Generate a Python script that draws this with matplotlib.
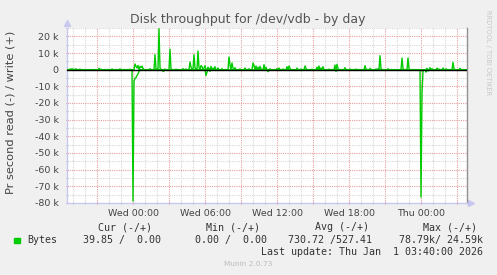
#!/usr/bin/env python
"""Munin style disk throughput graph for /dev/vdb, day view."""

import numpy as np
import matplotlib.pyplot as plt
from matplotlib.ticker import FixedLocator, FixedFormatter, MultipleLocator

# 5 minute samples, sample 0 = Tue 18:30, 400 samples in the window
n_samples = 400

# write (+) bytes/s, sparse: (sample index, value), everything else is 0
write_points = [
    (3, 400), (5, 600), (7, 300), (9, 500), (13, 300), (32, 800), (34, 300),
    (45, 400), (53, 500), (63, 300),
    (68, 3400), (69, 2000), (70, 1000), (71, 2500), (73, 2000), (74, 1200),
    (75, 2200), (76, 800), (83, 600),
    (88, 9000), (89, 500), (90, 300), (92, 24590), (93, 1000), (94, 200),
    (98, 300), (103, 12300), (104, 500), (109, 300),
    (116, 600), (119, 400), (123, 4600), (124, 1500), (125, 300), (127, 9000),
    (128, 1000), (129, 500), (131, 11200), (132, 1500), (134, 2500),
    (135, 1800), (137, 1000), (138, 2300),
    (141, 1500), (142, 600), (144, 2000), (146, 1000), (148, 1800), (151, 1000),
    (155, 500), (162, 7600), (163, 3000), (165, 4000), (166, 1000), (168, 1200),
    (173, 400),
    (178, 1000), (182, 500), (186, 4000), (187, 2500), (189, 2200), (191, 1500),
    (193, 2000), (194, 500), (197, 3000), (199, 1500), (203, 500), (210, 600),
    (212, 1000),
    (216, 400), (220, 1800), (222, 2200), (223, 800), (230, 1000), (234, 400),
    (238, 2200), (239, 800), (245, 300), (250, 1500), (252, 2200), (254, 1000),
    (256, 1800),
    (262, 300), (268, 2800), (270, 3200), (271, 800), (278, 1200), (283, 400),
    (289, 300), (298, 2400), (299, 600), (303, 800), (309, 400), (311, 500),
    (313, 8400), (314, 800), (321, 500),
    (335, 7000), (336, 800), (341, 7000), (342, 500),
    (360, 800), (363, 1200), (365, 600), (370, 900), (372, 400), (376, 1000),
    (379, 500), (386, 4400), (387, 600), (393, 800),
]

# read (-) bytes/s, sparse, drawn below zero
read_points = [
    (66, 78790), (67, 7000), (68, 5000), (69, 4800), (70, 3500), (71, 2500),
    (72, 1000), (96, 1000), (97, 800), (139, 3500), (140, 1500), (143, 1000),
    (201, 1200), (202, 600), (269, 1000),
    (354, 76500), (355, 14000), (356, 1000), (359, 1500), (361, 800),
]

# x axis: hours since Tue 18:30
x_labels = ['Wed 00:00', 'Wed 06:00', 'Wed 12:00', 'Wed 18:00', 'Thu 00:00']
x_label_pos = [5.5, 11.5, 17.5, 23.5, 29.5]
y_ticks = [20000, 10000, 0, -10000, -20000, -30000, -40000, -50000,
           -60000, -70000, -80000]
y_labels = ['20 k', '10 k', '0', '-10 k', '-20 k', '-30 k', '-40 k', '-50 k',
            '-60 k', '-70 k', '-80 k']

legend_head = ['Cur (-/+)', 'Min (-/+)', 'Avg (-/+)', 'Max (-/+)']
legend_vals = ['39.85 /  0.00', '0.00 /  0.00', '730.72 /527.41', '78.79k/ 24.59k']

green = '#00CC00'
bg = '#F0F0F0'

write = np.zeros(n_samples)
for i, v in write_points:
    write[i] = v
read = np.zeros(n_samples)
for i, v in read_points:
    read[i] = v
t = np.arange(n_samples) * 5 / 60.0

W, H = 497, 275
fig = plt.figure(figsize=(W / 100, H / 100), dpi=100, facecolor=bg)
ax = fig.add_axes([67 / W, (H - 203) / H, 400 / W, 175 / H])
ax.set_facecolor('white')

ax.set_xlim(0, n_samples / 12.0)
ax.set_ylim(-80000, 25000)

# grid: red every 3 h / 10 k, grey every hour / 5 k
dot = (0, (1, 1))
for h in np.arange(0.5, 33.4, 1.0):
    major = abs((h - 2.5) / 3 - round((h - 2.5) / 3)) < 1e-6
    ax.axvline(h, color='#E8A0A0' if major else '#D8D8D8', lw=0.8, ls=dot, zorder=1)
for v in range(-75000, 25001, 5000):
    major = v % 10000 == 0
    ax.axhline(v, color='#E8A0A0' if major else '#D8D8D8', lw=0.8, ls=dot, zorder=1)

ax.plot(t, write, color=green, lw=1.0, zorder=3)
ax.plot(t, -read, color=green, lw=1.0, zorder=3)
ax.axhline(0, color='black', lw=1.0, zorder=4)

# ticks
majors = list(np.arange(2.5, 33.4, 3.0))
ax.xaxis.set_major_locator(FixedLocator(majors))
ax.xaxis.set_major_formatter(FixedFormatter(
    [x_labels[x_label_pos.index(m)] if m in x_label_pos else '' for m in majors]))
ax.xaxis.set_minor_locator(FixedLocator(list(np.arange(0.5, 33.4, 1.0))))
ax.yaxis.set_major_locator(FixedLocator(y_ticks))
ax.yaxis.set_major_formatter(FixedFormatter(y_labels))
ax.yaxis.set_minor_locator(MultipleLocator(5000))
ax.tick_params(axis='both', which='major', length=2, width=0.8, color='#E08080',
               labelsize=6.8, labelcolor='#444444', direction='inout')
ax.tick_params(axis='both', which='minor', length=2, width=0.8, color='#BBBBBB',
               direction='inout')
ax.tick_params(axis='x', which='major', pad=3)
ax.tick_params(axis='y', which='major', pad=5)

ax.spines['top'].set_visible(False)
ax.spines['left'].set_color('#C8C8F0')
ax.spines['bottom'].set_color('#C8C8F0')
ax.spines['right'].set_color('#909090')
for s in ['left', 'bottom', 'right']:
    ax.spines[s].set_linewidth(1.0)

# axis arrows
ax.plot([0], [1.03], marker='^', ms=4, color='#C8C8F0', transform=ax.transAxes,
        clip_on=False)
ax.plot([1.01], [0], marker='>', ms=4, color='#C8C8F0', transform=ax.transAxes,
        clip_on=False)

# titles
fig.text(248 / W, 1 - 19 / H, 'Disk throughput for /dev/vdb - by day',
         ha='center', va='center', fontsize=9, color='#555555')
fig.text(11 / W, 1 - 112 / H, 'Pr second read (-) / write (+)', rotation=90,
         ha='center', va='center', fontsize=8.2, color='#444444')
fig.text(488 / W, 1 - 53 / H, 'RRDTOOL / TOBI OETIKER', rotation=270,
         ha='center', va='center', fontsize=4.8, color='#C8C8C8')

# legend block
mono = dict(family='DejaVu Sans Mono', fontsize=7.2, color='#333333')
for x, txt in zip([125, 233, 342, 450], legend_head):
    fig.text(x / W, 1 - 227 / H, txt, ha='center', va='center', **mono)
fig.patches.append(plt.Rectangle((14 / W, 1 - 243 / H), 5.5 / W, 5.5 / H,
                                 transform=fig.transFigure, color=green))
fig.text(27 / W, 1 - 240 / H, 'Bytes', ha='left', va='center', **mono)
for x, txt in zip([161, 267, 372, 483], legend_vals):
    fig.text(x / W, 1 - 240 / H, txt, ha='right', va='center', **mono)
fig.text(483 / W, 1 - 252 / H, 'Last update: Thu Jan  1 03:40:00 2026',
         ha='right', va='center', **mono)
fig.text(248 / W, 1 - 264 / H, 'Munin 2.0.73', ha='center', va='center',
         fontsize=5.3, color='#BBBBBB')

fig.savefig('out.png', dpi=100, facecolor=bg)
